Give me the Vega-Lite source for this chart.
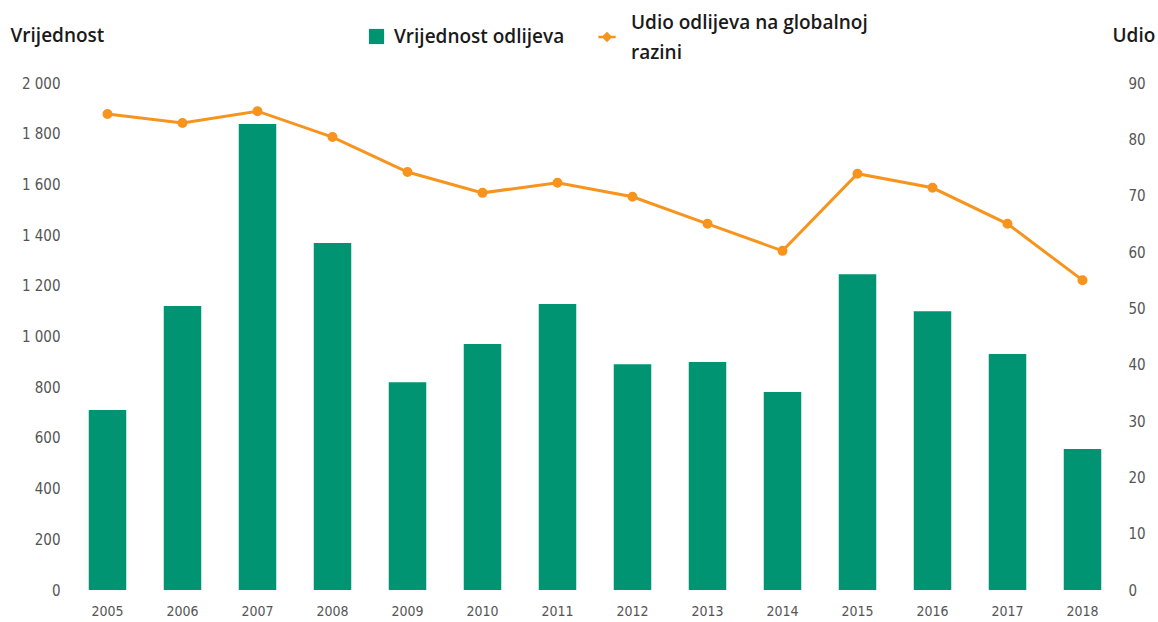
{
  "$schema": "https://vega.github.io/schema/vega-lite/v6.json",
  "width": 1050,
  "height": 507,
  "autosize": {"type": "none"},
  "padding": {"left": 70, "top": 83, "right": 38, "bottom": 32},
  "background": "white",
  "config": {
    "view": {"stroke": null},
    "axis": {"grid": false, "domain": false, "ticks": false,
      "labelFont": "Liberation Sans Narrow, DejaVu Sans Condensed, sans-serif",
      "labelFontSize": 15, "labelColor": "#555555"}
  },
  "data": {"values": [
    {"year": "2005", "vrijednost": 710, "udio": 84.5},
    {"year": "2006", "vrijednost": 1120, "udio": 82.9},
    {"year": "2007", "vrijednost": 1838, "udio": 85.0},
    {"year": "2008", "vrijednost": 1369, "udio": 80.4},
    {"year": "2009", "vrijednost": 820, "udio": 74.2},
    {"year": "2010", "vrijednost": 970, "udio": 70.5},
    {"year": "2011", "vrijednost": 1128, "udio": 72.3},
    {"year": "2012", "vrijednost": 891, "udio": 69.8},
    {"year": "2013", "vrijednost": 899, "udio": 65.0},
    {"year": "2014", "vrijednost": 781, "udio": 60.2},
    {"year": "2015", "vrijednost": 1246, "udio": 73.9},
    {"year": "2016", "vrijednost": 1100, "udio": 71.4},
    {"year": "2017", "vrijednost": 931, "udio": 65.0},
    {"year": "2018", "vrijednost": 556, "udio": 55.0}
  ]},
  "encoding": {
    "x": {"field": "year", "type": "ordinal",
      "scale": {"paddingInner": 0.5, "paddingOuter": 0.25},
      "axis": {"title": null, "labelAngle": 0, "labelPadding": 14, "labelFontSize": 14}}
  },
  "layer": [
    {
      "mark": {"type": "bar"},
      "encoding": {
        "y": {"field": "vrijednost", "type": "quantitative",
          "scale": {"domain": [0, 2000], "nice": false},
          "axis": {"orient": "left", "values": [0,200,400,600,800,1000,1200,1400,1600,1800,2000],
            "labelExpr": "replace(format(datum.value, ',d'), ',', ' ')",
            "labelPadding": 10,
            "title": "Vrijednost", "titleAngle": 0, "titleAlign": "left", "titleBaseline": "middle",
            "titleX": -60, "titleY": -48, "titleFont": "Open Sans", "titleFontSize": 19,
            "titleFontWeight": 600, "titleColor": "#1a1a1a"}},
        "fill": {"datum": "Vrijednost odlijeva", "type": "nominal",
          "scale": {"range": ["#009473"]},
          "legend": {"orient": "none", "legendX": 297, "legendY": -56, "title": null,
            "symbolType": "square", "symbolSize": 230, "symbolStrokeWidth": 0,
            "labelFont": "Open Sans", "labelFontSize": 19, "labelFontWeight": 600,
            "labelColor": "#1a1a1a", "labelOffset": 8, "labelLimit": 300}}
      }
    },
    {
      "mark": {"type": "line", "strokeWidth": 3, "point": {"size": 64, "filled": true, "color": "#f7941d"}},
      "encoding": {
        "y": {"field": "udio", "type": "quantitative",
          "scale": {"domain": [0, 90], "nice": false},
          "axis": {"orient": "right", "values": [0,10,20,30,40,50,60,70,80,90],
            "labelPadding": 8,
            "title": "Udio", "titleAngle": 0, "titleAlign": "left", "titleBaseline": "middle",
            "titleX": -8, "titleY": -48, "titleFont": "Open Sans", "titleFontSize": 19,
            "titleFontWeight": 600, "titleColor": "#1a1a1a"}},
        "stroke": {"datum": "Udio odlijeva na globalnoj razini", "type": "nominal",
          "scale": {"range": ["#f7941d"]},
          "legend": {"orient": "none", "legendX": 527, "legendY": -56, "title": null,
            "symbolType": "M-1,0H1M-0.4,0L0,-0.4L0.4,0L0,0.4Z", "symbolSize": 300,
            "symbolFillColor": "#f7941d", "symbolStrokeWidth": 2.5,
            "labelFont": "Open Sans", "labelFontSize": 19, "labelFontWeight": 600,
            "labelColor": "#1a1a1a", "labelOffset": 14, "labelLimit": 400,
            "labelExpr": "['Udio odlijeva na globalnoj', 'razini']",
            "encode": {"labels": {"update": {"lineHeight": {"value": 30}, "dy": {"value": -14}}}}}}
      }
    }
  ],
  "resolve": {"scale": {"y": "independent", "fill": "independent", "stroke": "independent"}}
}
